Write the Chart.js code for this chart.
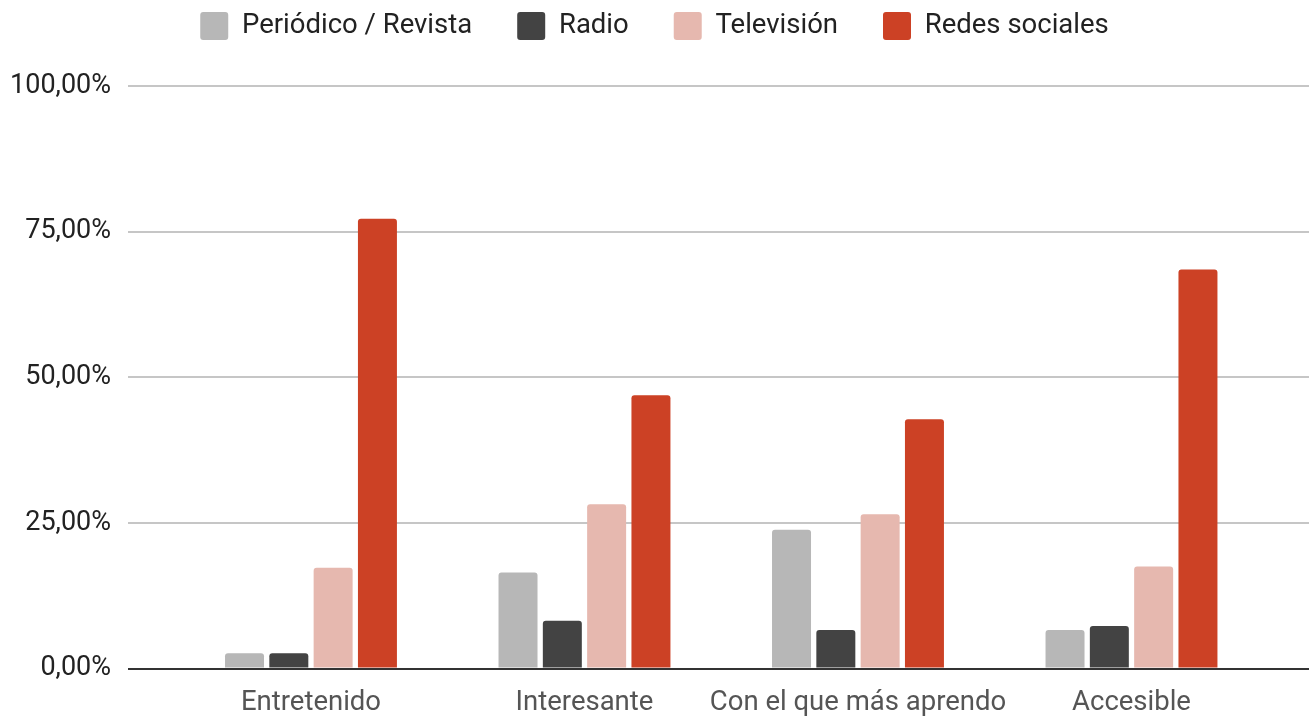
<!DOCTYPE html>
<html>
<head>
<meta charset="utf-8">
<script src="https://cdn.jsdelivr.net/npm/chart.js@4/dist/chart.umd.min.js"></script>
<style>
  body { margin: 0; background: #fff; }
  #wrap { width: 1309px; height: 716px; }
</style>
</head>
<body>
<div id="wrap"><canvas id="mediaChart"></canvas></div>
<script>
const categories = ['Entretenido', 'Interesante', 'Con el que más aprendo', 'Accesible'];
const periodico = [2.6, 16.5, 23.8, 6.6];
const radio = [2.6, 8.2, 6.6, 7.3];
const television = [17.3, 28.2, 26.5, 17.5];
const redes = [77.2, 46.9, 42.8, 68.5];
const yTicks = [0, 25, 50, 75, 100];

function points(values) {
  return values.map((v, i) => ({ x: i, y: v }));
}

// make the legend take a fixed amount of room above the plot
const legendRoom = {
  id: 'legendRoom',
  beforeInit(chart) {
    const fit = chart.legend.fit;
    chart.legend.fit = function () {
      fit.bind(this)();
      this.height = 119;
    };
  }
};

var ctx = document.getElementById('mediaChart').getContext('2d');
var mediaChart = new Chart(ctx, {
  type: 'bar',
  data: {
    datasets: [
      { label: 'Periódico / Revista', data: points(periodico), backgroundColor: '#b7b7b7' },
      { label: 'Radio', data: points(radio), backgroundColor: '#434343' },
      { label: 'Televisión', data: points(television), backgroundColor: '#e6b8af' },
      { label: 'Redes sociales', data: points(redes), backgroundColor: '#cc4125' }
    ]
  },
  options: {
    responsive: true,
    maintainAspectRatio: false,
    animation: false,
    layout: { padding: { top: -33, left: 0, right: 0, bottom: 0 } },
    datasets: {
      bar: {
        categoryPercentage: 0.648,
        barPercentage: 0.88,
        borderRadius: { topLeft: 3, topRight: 3 },
        borderSkipped: 'bottom'
      }
    },
    plugins: {
      tooltip: { enabled: false },
      legend: {
        position: 'top',
        align: 'center',
        labels: {
          boxWidth: 28,
          boxHeight: 28,
          padding: 45,
          color: '#222',
          font: { family: 'Roboto', size: 27.5 },
          useBorderRadius: true,
          borderRadius: 3
        }
      }
    },
    scales: {
      x: {
        type: 'linear',
        offset: false,
        min: -0.669,
        max: 3.649,
        grid: { display: false },
        border: { display: false },
        afterBuildTicks: (scale) => {
          scale.ticks = categories.map((c, i) => ({ value: i }));
        },
        afterFit: (scale) => { scale.height = 47.5; },
        ticks: {
          autoSkip: false,
          maxRotation: 0,
          padding: 10,
          color: '#555',
          font: { family: 'Roboto', size: 27.5 },
          callback: (v) => categories[v]
        }
      },
      y: {
        min: 0,
        max: 100,
        afterBuildTicks: (scale) => {
          scale.ticks = yTicks.map((v) => ({ value: v }));
        },
        afterFit: (scale) => { scale.width = 128; },
        border: { display: false },
        grid: {
          drawTicks: false,
          lineWidth: 2,
          color: (c) => (c.tick && c.tick.value === 0 ? '#333' : '#c6c6c6')
        },
        ticks: {
          padding: 17,
          color: '#222',
          font: { family: 'Roboto', size: 27 },
          callback: (v) => v.toFixed(2).replace('.', ',') + '%'
        }
      }
    }
  },
  plugins: [legendRoom]
});
</script>
</body>
</html>
